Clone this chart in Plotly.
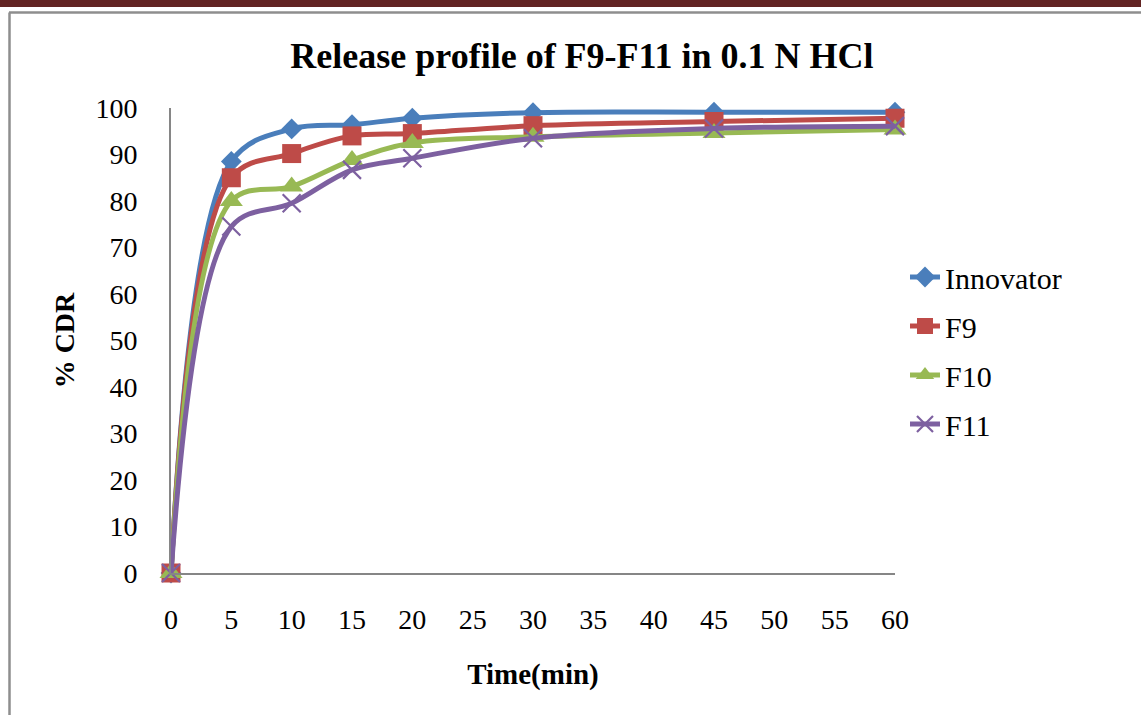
import plotly.graph_objects as go

time_min = [0, 5, 10, 15, 20, 30, 45, 60]
innovator = [0, 88.5, 95.5, 96.4, 97.8, 99.0, 99.1, 99.1]
f9 = [0, 85.0, 90.2, 94.0, 94.5, 96.2, 97.1, 97.8]
f10 = [0, 80.0, 83.1, 88.8, 92.5, 93.8, 94.6, 95.4]
f11 = [0, 74.5, 79.5, 86.7, 89.2, 93.5, 95.6, 96.1]

series_names = ["Innovator", "F9", "F10", "F11"]
series_values = [innovator, f9, f10, f11]
colors = ["#4A7EBB", "#BE4B48", "#98B954", "#7D60A0"]
symbols = ["diamond", "square", "triangle-up", "x-thin"]
msizes = [16, 19, 20, 18]

x_ticks = list(range(0, 61, 5))
y_ticks = list(range(0, 101, 10))

W, H = 1141, 715
L, R, T, B = 171, 895, 108, 573

fig = go.Figure()
for name, vals, c, s, ms in zip(series_names, series_values, colors, symbols, msizes):
    marker = dict(symbol=s, size=ms, color=c)
    if s == "x-thin":
        marker["line"] = dict(color=c, width=2.2)
    else:
        marker["line"] = dict(width=0)
    fig.add_trace(go.Scatter(
        x=time_min, y=vals, name=name, mode="lines+markers",
        line=dict(color=c, width=5, shape="spline", smoothing=1.0),
        marker=marker, cliponaxis=False, legendgroup=name,
    ))

serif = "Liberation Serif, Times New Roman, serif"

def px_x(p):
    return (p - L) / (R - L)

def px_y(p):
    return (B - p) / (B - T)

shapes = [
    dict(type="rect", xref="paper", yref="paper", x0=px_x(0), x1=px_x(W), y0=px_y(0), y1=px_y(7),
         fillcolor="#622423", line=dict(width=0), layer="above"),
    dict(type="line", xref="paper", yref="paper", x0=px_x(9), x1=px_x(W), y0=px_y(12.5), y1=px_y(12.5),
         line=dict(color="#8E8E8E", width=2.5)),
    dict(type="line", xref="paper", yref="paper", x0=px_x(9.5), x1=px_x(9.5), y0=px_y(12.5), y1=px_y(H),
         line=dict(color="#8E8E8E", width=2.5)),
]

fig.update_layout(
    width=W, height=H, autosize=False,
    margin=dict(l=L, r=W - R, t=T, b=H - B, pad=0),
    paper_bgcolor="white", plot_bgcolor="white",
    font=dict(family=serif, color="black", size=28),
    title=dict(text="<b>Release profile of F9-F11 in 0.1 N HCl</b>", x=582 / W, xanchor="center",
               y=1 - 55 / H, yanchor="middle", yref="container",
               font=dict(family=serif, size=36, color="black")),
    xaxis=dict(range=[0, 60], tickvals=x_ticks, showgrid=False, zeroline=False,
               showline=True, linecolor="#868686", linewidth=2, ticks="",
               ticklabelstandoff=20, tickfont=dict(size=28),
               title=dict(text="<b>Time(min)</b>", font=dict(size=29), standoff=30)),
    yaxis=dict(range=[0, 100], tickvals=y_ticks, showgrid=False, zeroline=False,
               showline=True, linecolor="#868686", linewidth=2, ticks="",
               ticklabelstandoff=26, tickfont=dict(size=28),
               title=dict(text="<b>% CDR</b>", font=dict(size=28), standoff=13)),
    legend=dict(x=px_x(905), y=px_y(251), xanchor="left", yanchor="top",
                font=dict(family=serif, size=30), bgcolor="rgba(0,0,0,0)",
                traceorder="grouped", tracegroupgap=7),
    shapes=shapes,
)

fig.write_html("out.html")
